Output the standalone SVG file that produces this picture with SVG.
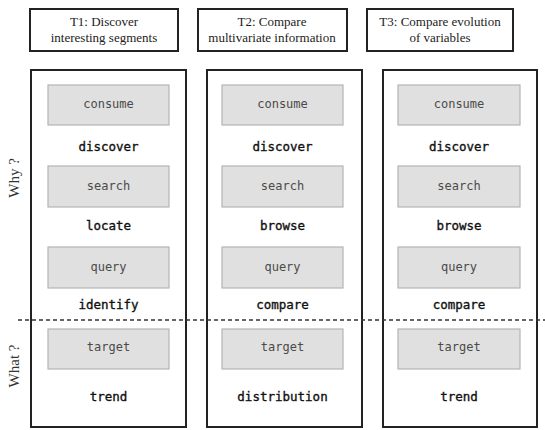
<svg xmlns="http://www.w3.org/2000/svg" width="545" height="430" viewBox="0 0 545 430">
<style>
.hdr{fill:#fff;stroke:#222;stroke-width:2}
.col{fill:#fff;stroke:#222;stroke-width:2}
.box{fill:#e0e0e0;stroke:#b4b4b4;stroke-width:1.2}
.ht{font-family:"Liberation Serif",serif;font-size:13px;fill:#222;text-anchor:middle}
.bt{font-family:"DejaVu Sans Mono",monospace;font-size:12px;fill:#4a4a4a;text-anchor:middle}
.lt{font-family:"DejaVu Sans Mono",monospace;font-size:12.5px;fill:#111;stroke:#111;stroke-width:0.35;text-anchor:middle}
.side{font-family:"Liberation Serif",serif;font-size:15px;fill:#333;text-anchor:middle}
</style>
<rect width="545" height="430" fill="#fff"/>
<g id="T1-header"><rect class="hdr" x="30" y="9" width="148" height="42"/><text class="ht" x="104" y="26">T1: Discover</text><text class="ht" x="104" y="42">interesting segments</text></g>
<g id="T2-header"><rect class="hdr" x="198" y="9" width="149" height="42"/><text class="ht" x="272" y="26">T2: Compare</text><text class="ht" x="272" y="42">multivariate information</text></g>
<g id="T3-header"><rect class="hdr" x="367" y="9" width="146" height="42"/><text class="ht" x="440" y="26">T3: Compare evolution</text><text class="ht" x="440" y="42">of variables</text></g>
<g id="T1">
<rect class="col" x="31" y="70" width="155" height="357"/>
<rect class="box" x="48" y="85" width="121" height="40"/><text class="bt" x="108.5" y="108">consume</text>
<text class="lt" x="108.5" y="151">discover</text>
<rect class="box" x="48" y="166" width="121" height="41"/><text class="bt" x="108.5" y="190">search</text>
<text class="lt" x="108.5" y="230">locate</text>
<rect class="box" x="48" y="247" width="121" height="41"/><text class="bt" x="108.5" y="271">query</text>
<text class="lt" x="108.5" y="309">identify</text>
<rect class="box" x="48" y="329" width="121" height="40"/><text class="bt" x="108.5" y="351">target</text>
<text class="lt" x="108.5" y="401">trend</text>
</g>
<g id="T2">
<rect class="col" x="207" y="70" width="155" height="357"/>
<rect class="box" x="222" y="85" width="121" height="40"/><text class="bt" x="282.5" y="108">consume</text>
<text class="lt" x="282.5" y="151">discover</text>
<rect class="box" x="222" y="166" width="121" height="41"/><text class="bt" x="282.5" y="190">search</text>
<text class="lt" x="282.5" y="230">browse</text>
<rect class="box" x="222" y="247" width="121" height="41"/><text class="bt" x="282.5" y="271">query</text>
<text class="lt" x="282.5" y="309">compare</text>
<rect class="box" x="222" y="329" width="121" height="40"/><text class="bt" x="282.5" y="351">target</text>
<text class="lt" x="282.5" y="401">distribution</text>
</g>
<g id="T3">
<rect class="col" x="383" y="70" width="154" height="357"/>
<rect class="box" x="398" y="85" width="122" height="40"/><text class="bt" x="459" y="108">consume</text>
<text class="lt" x="459" y="151">discover</text>
<rect class="box" x="398" y="166" width="122" height="41"/><text class="bt" x="459" y="190">search</text>
<text class="lt" x="459" y="230">browse</text>
<rect class="box" x="398" y="247" width="122" height="41"/><text class="bt" x="459" y="271">query</text>
<text class="lt" x="459" y="309">compare</text>
<rect class="box" x="398" y="329" width="122" height="40"/><text class="bt" x="459" y="351">target</text>
<text class="lt" x="459" y="401">trend</text>
</g>
<g id="connectors">
<line x1="18" y1="320" x2="545" y2="320" stroke="#333" stroke-width="1.5" stroke-dasharray="4,3"/>
</g>
<g id="labels">
<text class="side" transform="translate(19,178) rotate(-90)">Why ?</text>
<text class="side" transform="translate(19,366) rotate(-90)">What ?</text>
</g>
</svg>
